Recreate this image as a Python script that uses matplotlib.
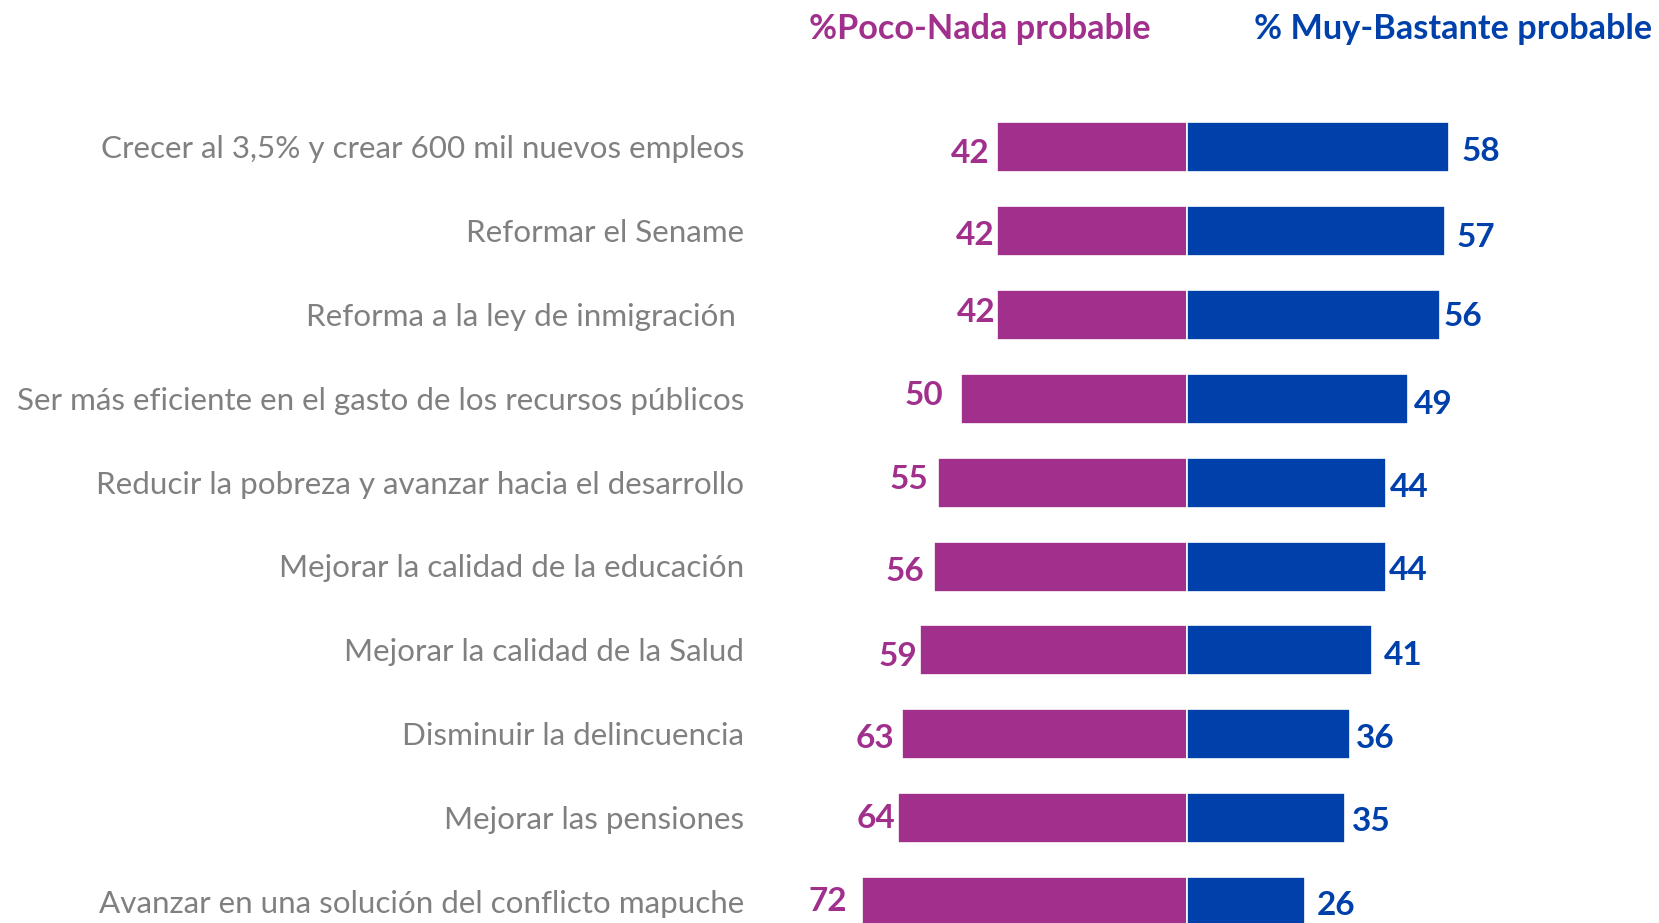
import numpy as np
import matplotlib.pyplot as plt

# datos
categorias = [
    "Crecer al 3,5% y crear 600 mil nuevos empleos",
    "Reformar el Sename",
    "Reforma a la ley de inmigración ",
    "Ser más eficiente en el gasto de los recursos públicos",
    "Reducir la pobreza y avanzar hacia el desarrollo",
    "Mejorar la calidad de la educación",
    "Mejorar la calidad de la Salud",
    "Disminuir la delincuencia",
    "Mejorar las pensiones",
    "Avanzar en una solución del conflicto mapuche",
]
poco_nada = [42, 42, 42, 50, 55, 56, 59, 63, 64, 72]
muy_bastante = [58, 57, 56, 49, 44, 44, 41, 36, 35, 26]

titulo_izq = "%Poco-Nada probable"
titulo_der = "% Muy-Bastante probable"

# las etiquetas del original estan colocadas a mano: separacion y
# desplazamiento vertical en pixeles
sep_izq = [8, 3, 2, 18, 10, 10, 3, 8, 2, 15]
dy_izq = [3.7, 1.5, -4.5, -6, -6, 2, 3.3, 1, -2, -3]
sep_der = [12.7, 11.7, 3, 5, 3.7, 3, 11.7, 6, 6.3, 12.7]
dy_der = [2, 4, -1, 3.3, 2, 1.5, 2.7, 1, 1, 1]

morado = "#A0308C"
azul = "#0040AA"
gris = "#808080"

W, H = 1659, 923
fig = plt.figure(figsize=(W / 100, H / 100), dpi=100)

# ejes en pixeles: centro en x=1187, 4.52 px por punto
px_u = 4.52
cx = 1187
row0, paso = 147, 83.9
ax = fig.add_axes([0, 0, 1, 1])
ax.set_xlim(-cx / px_u, (W - cx) / px_u)
ax.set_ylim((H - row0) / paso, -row0 / paso)
ax.axis("off")

y = np.arange(len(categorias))
alto = 50 / paso
ax.barh(y, -np.array(poco_nada), height=alto, color=morado,
        edgecolor="white", linewidth=1.2)
ax.barh(y, muy_bastante, height=alto, color=azul,
        edgecolor="white", linewidth=1.2)

fuente = "Lato"
pt = 0.72  # puntos por pixel a 100 dpi
x_lab = (744 - cx) / px_u
for i, c in enumerate(categorias):
    ax.text(x_lab, i + 2 / paso, c, ha="right", va="center", fontsize=22.6,
            color=gris, family=fuente)

media_cifra = 12.2  # mitad de la altura de los digitos, px
for i in range(len(categorias)):
    ax.annotate(str(poco_nada[i]), (-poco_nada[i], i),
                xytext=(-sep_izq[i] * pt, -(dy_izq[i] + media_cifra) * pt),
                textcoords="offset points", ha="right", va="baseline",
                fontsize=24, fontweight="bold", color=morado, family=fuente)
    ax.annotate(str(muy_bastante[i]), (muy_bastante[i], i),
                xytext=(sep_der[i] * pt, -(dy_der[i] + media_cifra) * pt),
                textcoords="offset points", ha="left", va="baseline",
                fontsize=24, fontweight="bold", color=azul, family=fuente)

y_tit = (39 - row0) / paso
ax.text((979.5 - cx) / px_u, y_tit, titulo_izq, ha="center", va="baseline",
        fontsize=24.7, fontweight="bold", color=morado, family=fuente)
ax.text((1453 - cx) / px_u, y_tit, titulo_der, ha="center", va="baseline",
        fontsize=24.7, fontweight="bold", color=azul, family=fuente)

fig.savefig("out.png", dpi=100)
